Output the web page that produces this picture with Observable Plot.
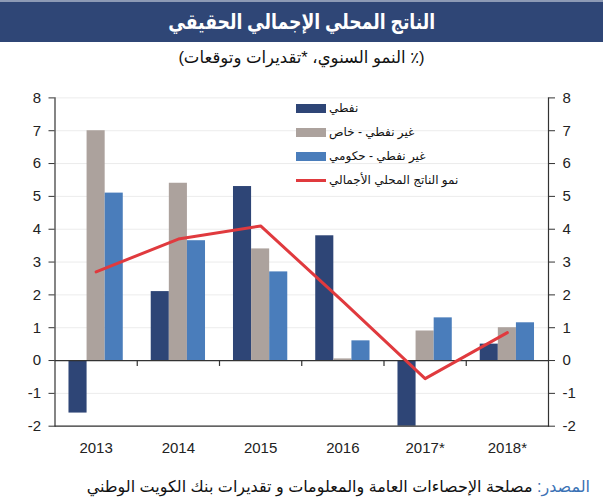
<!DOCTYPE html>
<html>
<head>
<meta charset="utf-8">
<script src="https://cdn.jsdelivr.net/npm/d3@7"></script>
<script src="https://cdn.jsdelivr.net/npm/@observablehq/plot@0.6"></script>
<style>
  body { margin: 0; background: #fff; font-family: "Liberation Sans", Arial, "DejaVu Sans", sans-serif; }
  #wrap { position: relative; width: 603px; height: 500px; overflow: hidden; }
  .title { height: 42px; background: #2f4676; color: #fff; font-weight: bold; font-size: 21px;
           text-align: center; line-height: 40px; border-top: 2px solid #8d9ab5; box-sizing: border-box; }
  .title span { display: inline-block; transform: scaleX(0.82); }
  .subtitle { height: 28px; text-align: center; font-size: 16.5px; line-height: 30px; color: #111; }
  #chart { height: 392px; }
  .caption { position: absolute; right: 13px; top: 477px; font-size: 16px; color: #111; white-space: nowrap; }
  .caption .src { color: #3b72b5; }
  .legend { position: absolute; left: 296px; top: 96px; }
  .legend .row { display: flex; align-items: center; height: 24px; direction: ltr; }
  .legend .sw { width: 30px; height: 9px; margin-right: 3px; }
  .legend .ln { width: 30px; height: 3px; margin-right: 3px; }
  .legend span { font-size: 12px; color: #111; white-space: nowrap; }
</style>
</head>
<body>
<div id="wrap">
  <div class="title" dir="rtl"><span>الناتج المحلي الإجمالي الحقيقي</span></div>
  <div class="subtitle" dir="rtl">(٪ النمو السنوي، *تقديرات وتوقعات)</div>
  <div id="chart"></div>
  <div class="legend" id="legend"></div>
  <div class="caption" dir="rtl"><span class="src">المصدر:</span> مصلحة الإحصاءات العامة والمعلومات و تقديرات بنك الكويت الوطني</div>
</div>
<script>
// Years on the category axis (* = estimates / forecasts)
const years = ["2013", "2014", "2015", "2016", "2017*", "2018*"];

// Annual growth, %
const oil = [-1.6, 2.1, 5.3, 3.8, -2.0, 0.5];
const nonOilPrivate = [7.0, 5.4, 3.4, 0.05, 0.9, 1.0];
const nonOilGov = [5.1, 3.65, 2.7, 0.6, 1.3, 1.15];
const gdpGrowth = [2.7, 3.7, 4.1, 1.8, -0.55, 0.85];

// Series names and colours
const seriesNames = ["نفطي", "غير نفطي - خاص", "غير نفطي - حكومي", "نمو الناتج المحلي الأجمالي"];
const seriesColors = ["#2e4576", "#aca29d", "#4a7dbb", "#e03a3e"];

const yTicks = [-2, -1, 0, 1, 2, 3, 4, 5, 6, 7, 8];

const table = years.map((year, i) => ({
  year, oil: oil[i], priv: nonOilPrivate[i], gov: nonOilGov[i], gdp: gdpGrowth[i]
}));

const width = 603, height = 392;
const marginLeft = 54.5, marginRight = 55;
const bw = (width - marginLeft - marginRight) / years.length; // band width
const barW = bw * 0.22;
const lead = (bw - 3 * barW) / 2;
const barInsets = k => ({insetLeft: lead + k * barW, insetRight: bw - lead - (k + 1) * barW});

const chart = Plot.plot({
  width, height,
  marginLeft, marginRight, marginTop: 27.4, marginBottom: 36.3,
  x: {type: "band", domain: years, padding: 0, round: false, label: null},
  y: {domain: [-2, 8], label: null},
  style: {fontFamily: "'Liberation Sans', Arial, sans-serif", fontSize: "15px", color: "#222", background: "#fff"},
  marks: [
    Plot.gridY(yTicks, {stroke: "#ececec", strokeOpacity: 1}),
    Plot.barY(table, {x: "year", y: "oil", fill: seriesColors[0], ...barInsets(0)}),
    Plot.barY(table, {x: "year", y: "priv", fill: seriesColors[1], ...barInsets(1)}),
    Plot.barY(table, {x: "year", y: "gov", fill: seriesColors[2], ...barInsets(2)}),
    Plot.ruleY([0], {stroke: "#333", strokeWidth: 1.2}),
    Plot.ruleX(years.slice(1), {x: d => d, y1: 0, y2: -0.18, dx: -bw / 2, stroke: "#333", strokeWidth: 1.2}),
    Plot.lineY(table, {x: "year", y: "gdp", stroke: seriesColors[3], strokeWidth: 3}),
    Plot.frame({anchor: "left", stroke: "#333", strokeWidth: 1.2}),
    Plot.frame({anchor: "right", stroke: "#333", strokeWidth: 1.2}),
    Plot.frame({anchor: "bottom", stroke: "#333", strokeWidth: 1.2}),
    Plot.axisY({anchor: "left", ticks: yTicks, tickFormat: d => String(d), tickSize: 6, tickPadding: 8, stroke: "#333"}),
    Plot.axisY({anchor: "right", ticks: yTicks, tickFormat: d => String(d), tickSize: 6, tickPadding: 8, stroke: "#333"}),
    Plot.axisX({anchor: "bottom", tickSize: 0, tickPadding: 16})
  ]
});
document.getElementById("chart").appendChild(chart);

// Legend
const legend = document.getElementById("legend");
seriesNames.forEach((name, i) => {
  const row = document.createElement("div");
  row.className = "row";
  const sw = document.createElement("div");
  sw.className = i === 3 ? "ln" : "sw";
  sw.style.background = seriesColors[i];
  const label = document.createElement("span");
  label.dir = "rtl";
  label.textContent = name;
  row.appendChild(sw);
  row.appendChild(label);
  legend.appendChild(row);
});
</script>
</body>
</html>
